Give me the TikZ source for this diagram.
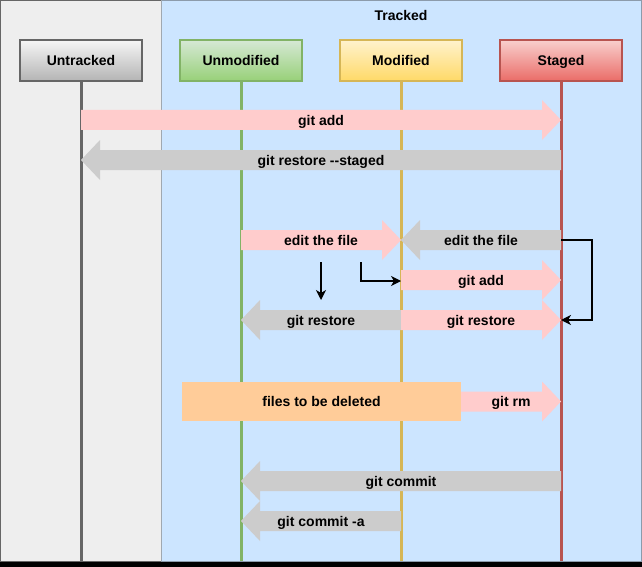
\documentclass[tikz,border=0pt]{standalone}
\usepackage{fontspec}
\setmainfont{Liberation Sans}
\usetikzlibrary{calc,arrows.meta}
\definecolor{pinkc}{HTML}{FFCCCC}
\definecolor{grayc}{HTML}{CCCCCC}
\definecolor{orangec}{HTML}{FFCC99}
\definecolor{leftbg}{HTML}{EEEEEE}
\definecolor{rightbg}{HTML}{CCE5FF}
\definecolor{ugray}{HTML}{666666}
\definecolor{ugreen}{HTML}{82B366}
\definecolor{uyellow}{HTML}{D6B656}
\definecolor{ured}{HTML}{B85450}
\definecolor{gtop}{HTML}{F5F5F5}
\definecolor{gbot}{HTML}{B3B3B3}
\definecolor{grtop}{HTML}{D5E8D4}
\definecolor{grbot}{HTML}{97D077}
\definecolor{ytop}{HTML}{FFF2CC}
\definecolor{ybot}{HTML}{FFD966}
\definecolor{rtop}{HTML}{F8CECC}
\definecolor{rbot}{HTML}{EA6B66}
\definecolor{rborder}{HTML}{8C9BAB}
\definecolor{divc}{HTML}{A0A8B0}
\newcommand\rarr[4]{%
  \fill[#3] let \p1=(#1),\p2=(#2) in
    (\x1,{\y1+10pt}) -- ({\x2-19pt},{\y1+10pt}) -- ({\x2-19pt},{\y1+20pt}) -- (\x2,\y1)
    -- ({\x2-19pt},{\y1-20pt}) -- ({\x2-19pt},{\y1-10pt}) -- (\x1,{\y1-10pt}) -- cycle;
  \node[lbl] at ($(#1)!0.5!(#2)$) {#4};}
\newcommand\larr[4]{%
  \fill[#3] let \p1=(#1),\p2=(#2) in
    (\x1,{\y1+10pt}) -- ({\x2+19pt},{\y1+10pt}) -- ({\x2+19pt},{\y1+20pt}) -- (\x2,\y1)
    -- ({\x2+19pt},{\y1-20pt}) -- ({\x2+19pt},{\y1-10pt}) -- (\x1,{\y1-10pt}) -- cycle;
  \node[lbl] at ($(#1)!0.5!(#2)$) {#4};}
\begin{document}
\begin{tikzpicture}[x=1pt,y=-1pt,
  lbl/.style={font=\bfseries\fontsize{14}{16}\selectfont, inner sep=0pt, text height=12pt, text depth=2pt},
  hdr/.style={line width=2pt, minimum width=122pt, minimum height=41pt, inner sep=0pt,
    text height=12pt, text depth=2pt, font=\bfseries\fontsize{14}{16}\selectfont},
  life/.style={line width=3pt},
  blk/.style={line width=1.3pt, -{Stealth[length=10pt,width=10pt,inset=3pt]}}]
\useasboundingbox (0,0) rectangle (642,567);
\fill[black] (0,0) rectangle (642,567);
\filldraw[fill=leftbg, draw=ugray, line width=1pt] (0.5,0.5) rectangle (161,561);
\filldraw[fill=rightbg, draw=rborder, line width=1pt] (161,0.5) rectangle (641,561);
\draw[divc, line width=1pt] (161,0.5) -- (161,561);
\node[lbl] (tr) at (401,16) {Tracked};

\node[hdr, draw=ugray, top color=gtop, bottom color=gbot] (U) at (81,61) {Untracked};
\node[hdr, draw=ugreen, top color=grtop, bottom color=grbot] (UM) at (241,61) {Unmodified};
\node[hdr, draw=uyellow, top color=ytop, bottom color=ybot] (M) at (401,61) {Modified};
\node[hdr, draw=ured, top color=rtop, bottom color=rbot] (S) at (561,61) {Staged};

\coordinate (bot) at (0,561);
\draw[life, draw=ugray] (U.south) -- (U|-bot);
\draw[life, draw=ugreen] (UM.south) -- (UM|-bot);
\draw[life, draw=uyellow] (M.south) -- (M|-bot);
\draw[life, draw=ured] (S.south) -- (S|-bot);

\coordinate (r1) at (0,120);
\coordinate (r2) at (0,160);
\coordinate (r3) at (0,240);
\coordinate (r4) at (0,280);
\coordinate (r5) at (0,320);
\coordinate (r7) at (0,481);
\coordinate (r8) at (0,521);

\rarr{U|-r1}{S|-r1}{pinkc}{git add}
\larr{S|-r2}{U|-r2}{grayc}{git restore -{}-staged}
\rarr{UM|-r3}{M|-r3}{pinkc}{edit the file}
\larr{S|-r3}{M|-r3}{grayc}{edit the file}
\rarr{M|-r4}{S|-r4}{pinkc}{git add}
\larr{M|-r5}{UM|-r5}{grayc}{git restore}
\rarr{M|-r5}{S|-r5}{pinkc}{git restore}

\node[fill=orangec, minimum width=279pt, minimum height=39pt, inner sep=0pt,
  text height=12pt, text depth=2pt,
  font=\bfseries\fontsize{14}{16}\selectfont] (del) at (321.5,401.5) {files to be deleted};
\rarr{del.east}{S|-del}{pinkc}{git rm}
\larr{S|-r7}{UM|-r7}{grayc}{git commit}
\larr{M|-r8}{UM|-r8}{grayc}{git commit -a}

\coordinate (d1) at (321,262);
\coordinate (d2) at (321,300);
\coordinate (e1) at (361,262);
\coordinate (e2) at (361,281);
\draw[blk] (d1) -- (d2);
\draw[blk] (e1) -- (e2) -- (M|-e2);
\coordinate (k1) at (592,240);
\draw[blk] (S|-r3) -- (k1) -- (k1|-r5) -- (S|-r5);
\end{tikzpicture}
\end{document}
